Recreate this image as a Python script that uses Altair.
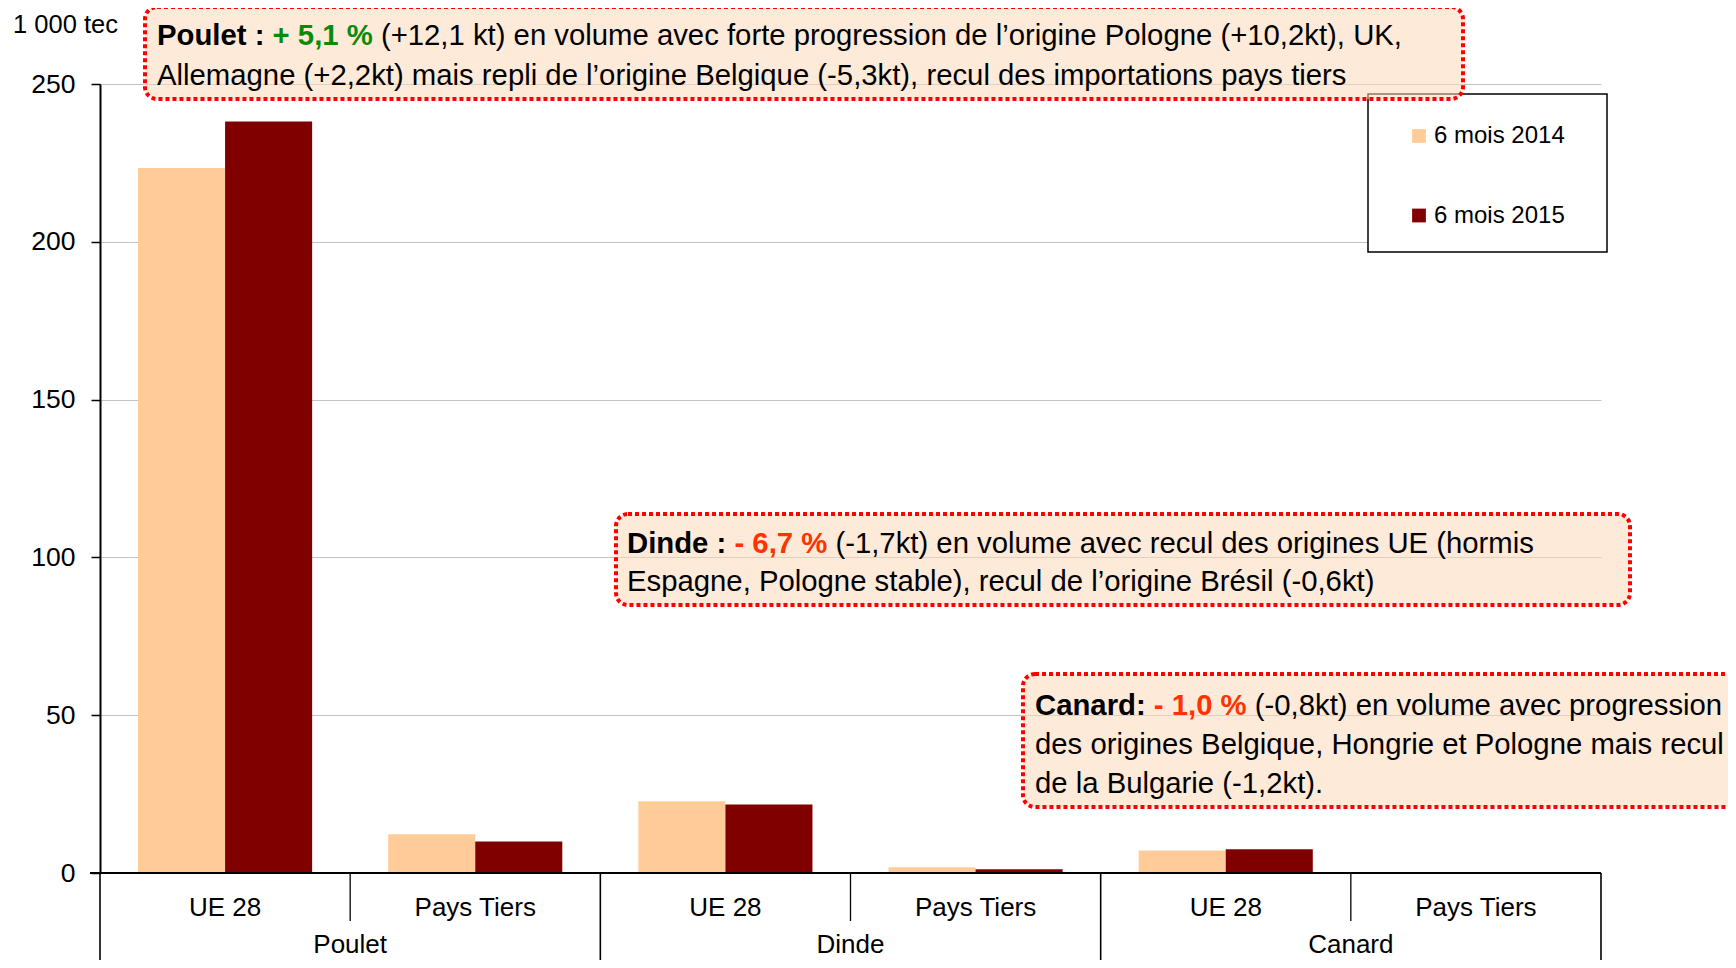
import altair as alt
import pandas as pd

# ---------------- data ----------------
species = ["Poulet", "Poulet", "Dinde", "Dinde", "Canard", "Canard"]
origins = ["UE 28", "Pays Tiers", "UE 28", "Pays Tiers", "UE 28", "Pays Tiers"]
groups = ["Poulet", "Dinde", "Canard"]
years = ["6 mois 2014", "6 mois 2015"]
v2014 = [223.4, 12.3, 22.7, 1.8, 7.1, 0.2]
v2015 = [238.1, 10.0, 21.7, 1.2, 7.5, 0.2]
y_ticks = [0, 50, 100, 150, 200, 250]
unit_label = "1 000 tec"

poulet_txt = ["Poulet :", "+ 5,1 %",
              "(+12,1 kt) en volume avec forte progression de l\u2019origine Pologne (+10,2kt), UK,",
              "Allemagne (+2,2kt) mais repli de l\u2019origine Belgique (-5,3kt), recul des importations pays tiers"]
dinde_txt = ["Dinde :", "- 6,7 %",
             "(-1,7kt) en volume avec recul des origines UE (hormis",
             "Espagne, Pologne stable), recul de l\u2019origine Br\u00e9sil (-0,6kt)"]
canard_txt = ["Canard:", "- 1,0 %",
              "(-0,8kt) en volume avec progression",
              "des origines Belgique, Hongrie et Pologne mais recul",
              "de la Bulgarie (-1,2kt)."]

slots = [f"{s} \u2013 {o}" for s, o in zip(species, origins)]
bars_df = pd.DataFrame({
    "slot": slots * 2,
    "year": [years[0]] * 6 + [years[1]] * 6,
    "value": v2014 + v2015,
})

# ---------------- layout / style ----------------
FONT = "Liberation Sans"
W, H = 1501, 789
AF = 29.3  # annotation font size
C2014, C2015 = "#FFCC99", "#800000"
GREEN, ORANGE = "#0A8A0A", "#FF3300"

BOLD_W = {' ': 278, ':': 333, 'P': 667, 'o': 611, 'u': 611, 'l': 278, 'e': 556,
          't': 333, 'D': 722, 'i': 278, 'n': 611, 'd': 611, 'C': 722, 'a': 556,
          'r': 389, '+': 584, '-': 333, ',': 278, '%': 889}
for d in "0123456789":
    BOLD_W[d] = 556


def bw(s, size=AF):
    return sum(BOLD_W.get(c, 556) for c in s) * size / 1000.0


one = pd.DataFrame({"k": [0]})
xscale = alt.Scale(domain=slots, paddingInner=0, paddingOuter=0)

bars = alt.Chart(bars_df).mark_bar(strokeWidth=0).encode(
    x=alt.X("slot:N", scale=xscale, axis=None),
    xOffset=alt.XOffset("year:N", scale=alt.Scale(domain=years, paddingInner=0, paddingOuter=0.437)),
    y=alt.Y("value:Q", scale=alt.Scale(domain=[0, 250], nice=False),
            axis=alt.Axis(values=y_ticks, title=None, tickSize=9, tickColor="black", tickWidth=1.5,
                          domainColor="black", domainWidth=2, labelFontSize=26.5, labelFont=FONT,
                          labelColor="black", labelPadding=16, grid=True, gridColor="#C4C4C4",
                          gridWidth=1.2)),
    color=alt.Color("year:N", scale=alt.Scale(domain=years, range=[C2014, C2015]),
                    legend=alt.Legend(orient="none", legendX=1307, legendY=40, title=None,
                                      symbolType="square", symbolSize=190, symbolStrokeWidth=0,
                                      labelFontSize=24, labelFont=FONT, labelColor="black",
                                      rowPadding=55.5, labelOffset=3, padding=0)),
)

baseline = alt.Chart(one).mark_rule(color="black", strokeWidth=2).encode(
    x=alt.value(-10), x2=alt.value(W), y=alt.value(H))

grp_rules = alt.Chart(pd.DataFrame({"slot": slots[0::2]})).mark_rule(color="black", strokeWidth=1.6).encode(
    x=alt.X("slot:N", scale=xscale, axis=None, bandPosition=0),
    y=alt.value(H), y2=alt.value(H + 100))
end_rule = alt.Chart(one).mark_rule(color="black", strokeWidth=1.6).encode(
    x=alt.value(W), y=alt.value(H), y2=alt.value(H + 100))
sub_rules = alt.Chart(pd.DataFrame({"slot": slots[1::2]})).mark_rule(color="black", strokeWidth=1.3).encode(
    x=alt.X("slot:N", scale=xscale, axis=None, bandPosition=0),
    y=alt.value(H), y2=alt.value(H + 48))

sub_labels = alt.Chart(pd.DataFrame({"slot": slots, "lab": origins})).mark_text(
    font=FONT, fontSize=26, color="black", baseline="middle").encode(
    x=alt.X("slot:N", scale=xscale, axis=None), y=alt.value(H + 35), text="lab:N")
grp_labels = alt.Chart(pd.DataFrame({"slot": slots[1::2], "lab": groups})).mark_text(
    font=FONT, fontSize=26, color="black", baseline="middle").encode(
    x=alt.X("slot:N", scale=xscale, axis=None, bandPosition=0), y=alt.value(H + 72), text="lab:N")

unit = alt.Chart(one).mark_text(font=FONT, fontSize=25.5, color="black", align="left",
                                baseline="alphabetic").encode(
    x=alt.value(-87), y=alt.value(-51), text=alt.value(unit_label))

legend_box = alt.Chart(one).mark_rect(fill="white", stroke="black", strokeWidth=1.5).encode(
    x=alt.value(1268), x2=alt.value(1507), y=alt.value(10), y2=alt.value(168))


def box(x1, x2, y1, y2):
    return alt.Chart(one).mark_rect(fill="#FCD9BA", fillOpacity=0.55, stroke="#FF0000",
                                    strokeWidth=4, strokeDash=[4, 3], cornerRadius=12).encode(
        x=alt.value(x1), x2=alt.value(x2), y=alt.value(y1), y2=alt.value(y2))


def txt(s, x, y, weight="normal", color="black"):
    return alt.Chart(one).mark_text(font=FONT, fontSize=AF, fontWeight=weight, color=color,
                                    align="left", baseline="alphabetic").encode(
        x=alt.value(x), y=alt.value(y), text=alt.value(s))


def annotation(parts, x0, ys, pct_color, rect):
    head, pct = parts[0], parts[1]
    xp = x0 + bw(head + " ")
    xr = xp + bw(pct) + 0.278 * AF
    layers = [box(*rect),
              txt(head, x0, ys[0], "bold"),
              txt(pct, xp, ys[0], "bold", pct_color),
              txt(parts[2], xr, ys[0])]
    for s, y in zip(parts[3:], ys[1:]):
        layers.append(txt(s, x0, y))
    return layers


ann = []
ann += annotation(poulet_txt, 57, [-39, 1], GREEN, (45, 1363, -77, 15))
ann += annotation(dinde_txt, 527, [469, 507], ORANGE, (516, 1530, 430, 521))
ann += annotation(canard_txt, 935, [631, 670, 709], ORANGE, (923, 1660, 590, 723))

chart = alt.layer(
    bars, baseline, grp_rules, end_rule, sub_rules, sub_labels, grp_labels, unit,
    legend_box, *ann
).properties(
    width=W, height=H, autosize="none",
    padding={"left": 92, "top": 76, "right": 127, "bottom": 87},
    background="white",
).configure_view(stroke=None)

chart.save("out.html", embed_options={"renderer": "svg", "actions": False})
